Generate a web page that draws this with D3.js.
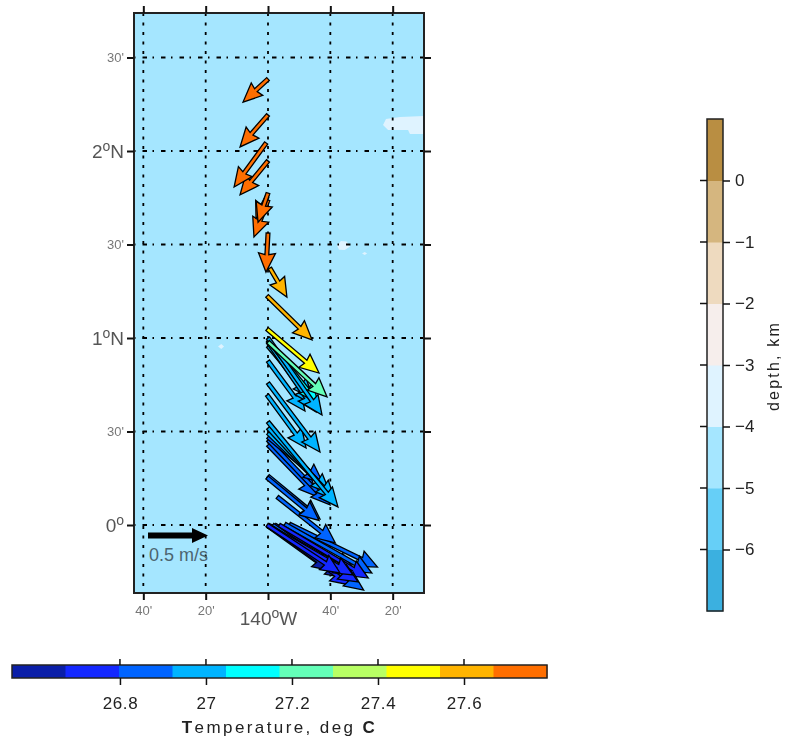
<!DOCTYPE html>
<html>
<head>
<meta charset="utf-8">
<script src="https://cdn.jsdelivr.net/npm/d3@7"></script>
<style>
html,body{margin:0;padding:0;background:#fff;}
svg{display:block;filter:blur(0.5px);font-family:"Liberation Sans",Arial,sans-serif;}
</style>
</head>
<body>
<svg id="chart"></svg>
<script>
var WIDTH = 785;
var HEIGHT = 742;

// current vectors (lon/lat of the tail, u/v in m/s, temperature)
var vecLon = [-140,-140,-140.01,-140,-140,-140.005,-140,-140,-139.99,-140.005,-140.005,
  -140,-140,-140,-140,-140,-139.995,-140,-140,-140.005,
  -140,-140,-140,-140,-140,-140,-140.005,-140,-139.95,
  -140.005,-140,-140,-139.975,-139.94,-139.91,-139.885,-139.99,-140,-139.99,-139.963];
var vecLat = [2.385,2.193,2.043,1.947,1.775,1.754,1.738,1.561,1.374,1.225,1.048,
  0.979,1.0,0.989,0.979,0.957,0.963,0.877,0.759,0.695,
  0.551,0.519,0.492,0.471,0.455,0.428,0.254,0.262,0.15,
  0,-0.005,0,0,0,0.005,0.005,-0.005,-0.005,-0.005,0];
var vecU = [-0.208,-0.233,-0.267,-0.233,-0.083,-0.092,-0.117,-0.017,0.142,0.375,0.433,
  0.492,0.45,0.417,0.4,0.367,0.367,0.308,0.433,0.325,
  0.583,0.558,0.517,0.458,0.517,0.417,0.433,0.433,0.483,
  0.608,0.708,0.75,0.758,0.742,0.725,0.733,0.517,0.683,0.625,0.667];
var vecV = [-0.192,-0.267,-0.367,-0.283,-0.242,-0.175,-0.308,-0.325,-0.242,-0.367,-0.367,
  -0.458,-0.642,-0.525,-0.583,-0.433,-0.5,-0.417,-0.575,-0.442,
  -0.708,-0.6,-0.5,-0.383,-0.542,-0.433,-0.358,-0.358,-0.383,
  -0.4,-0.408,-0.475,-0.542,-0.442,-0.408,-0.358,-0.375,-0.492,-0.433,-0.375];
var vecTemp = [27.75,27.75,27.75,27.75,27.75,27.75,27.75,27.75,27.65,27.65,27.5,
  27.25,27.0,27.1,27.0,27.0,27.0,27.0,26.98,26.98,
  26.98,26.98,26.98,26.85,26.85,26.85,26.85,26.85,26.85,
  26.7,26.72,26.72,26.85,26.7,26.85,26.85,26.6,26.72,26.6,26.72];

// shallow patches in the bathymetry
var patches = [
  [[-139.385,2.139],[-139.369,2.171],[-139.294,2.182],[-139.166,2.187],[-139.166,2.091],[-139.241,2.091],[-139.251,2.112],[-139.358,2.112]],
  [[-139.631,1.495],[-139.61,1.519],[-139.58,1.516],[-139.561,1.49],[-139.59,1.47],[-139.62,1.472]],
  [[-139.497,1.452],[-139.483,1.46],[-139.47,1.452],[-139.483,1.444]],
  [[-140.267,0.955],[-140.25,0.968],[-140.235,0.955],[-140.25,0.941]]
];

var lonTicks = [-140.6667,-140.3333,-140,-139.6667,-139.3333];
var lonLabels = ["40'","20'","140°W","40'","20'"];
var latTicks = [0,0.5,1,1.5,2,2.5];
var latLabels = ["0°","30'","1°N","30'","2°N","30'"];

var tempColors = ["#0a1ea8","#1428ff","#0064ff","#00b4ff","#00ffff","#64ffb8","#b8ff64","#ffff00","#ffb400","#ff6e00"];
var tempDomain = [26.549,27.793];
var tempTicks = [26.8,27,27.2,27.4,27.6];

var depthColors = ["#3bb0e0","#66cff7","#a5e6ff","#dff3ff","#f6eeec","#eedabf","#d5b67f","#b98e42"];
var depthTicks = [0,-1,-2,-3,-4,-5,-6];

var svg = d3.select('#chart').attr('width',WIDTH).attr('height',HEIGHT);

var xScale = d3.scaleLinear().domain([-140.7166,-139.1658]).range([134,424]);
var yScale = d3.scaleLinear().domain([-0.3636,2.738]).range([593,13]);

// map panel
var mapW = 290, mapH = 580;
svg.append('rect').attr('x',134).attr('y',13).attr('width',mapW).attr('height',mapH)
  .attr('fill',depthColors[2]);

var patchLine = d3.line()
  .x(function(d){return xScale(d[0]);})
  .y(function(d){return yScale(d[1]);})
  .curve(d3.curveLinearClosed);
svg.append('g').selectAll('path').data(patches).enter().append('path')
  .attr('d',patchLine)
  .attr('fill',depthColors[3]);

// degree sign is drawn as a raised small o
var writeLabel = function(sel){
  sel.each(function(d,i){
    var t = d3.select(this);
    var parts = t.text().split('°');
    t.text(parts[0]);
    if(parts.length > 1){
      t.append('tspan').attr('dy',-7).style('font-size','14px').text('o');
      t.append('tspan').attr('dy',7).text(parts[1]);
    }
  });
};

var bigLabel = function(s){ return s.indexOf('°') >= 0; };

var styleMapAxis = function(g){
  g.select('.domain').remove();
  g.selectAll('.tick line').attr('stroke','#111').attr('stroke-width',2);
  g.selectAll('.tick text')
    .attr('fill',function(){ return bigLabel(d3.select(this).text()) ? '#555' : '#777'; })
    .style('font-size',function(){ return bigLabel(d3.select(this).text()) ? '19px' : '13px'; })
    .style('font-family','"Liberation Sans",Arial,sans-serif');
};

// grid
var gridG = svg.append('g');
gridG.selectAll('line.v').data(lonTicks).enter().append('line').attr('class','v')
  .attr('x1',function(d){return xScale(d);}).attr('x2',function(d){return xScale(d);})
  .attr('y1',13).attr('y2',593)
  .attr('stroke','#000').attr('stroke-width',1.8).attr('stroke-dasharray','3 6.5');
gridG.selectAll('line.h').data(latTicks).enter().append('line').attr('class','h')
  .attr('y1',function(d){return yScale(d);}).attr('y2',function(d){return yScale(d);})
  .attr('x1',134).attr('x2',424)
  .attr('stroke','#000').attr('stroke-width',1.8).attr('stroke-dasharray','1.5 7 4.5 5.5');

// vectors
var quiver = d3.scaleLinear().domain([0,0.5]).range([0,60]);
var vecPath = function(i){
  var x0 = xScale(vecLon[i]), y0 = yScale(vecLat[i]);
  var dx = quiver(vecU[i]), dy = -quiver(vecV[i]);
  var len = Math.sqrt(dx*dx+dy*dy);
  var ux = dx/len, uy = dy/len, px = -uy, py = ux;
  var w = 1.9, hl = Math.min(19,len*0.65), hw = 8.5, notch = hl*0.92;
  var pts = [
    [x0+px*w,y0+py*w],
    [x0+ux*(len-notch)+px*w,y0+uy*(len-notch)+py*w],
    [x0+ux*(len-hl)+px*hw,y0+uy*(len-hl)+py*hw],
    [x0+dx,y0+dy],
    [x0+ux*(len-hl)-px*hw,y0+uy*(len-hl)-py*hw],
    [x0+ux*(len-notch)-px*w,y0+uy*(len-notch)-py*w],
    [x0-px*w,y0-py*w]
  ];
  return d3.line()(pts)+'Z';
};
var tempColor = d3.scaleQuantize().domain(tempDomain).range(tempColors);
// drawn south to north so the warm arrows end up on top
svg.append('g').selectAll('path').data(d3.range(vecLat.length).reverse()).enter().append('path')
  .attr('d',vecPath)
  .attr('fill',function(i){return tempColor(vecTemp[i]);})
  .attr('stroke','#000').attr('stroke-width',1.3).attr('stroke-linejoin','miter');

// reference arrow
var refLen = quiver(0.5);
var refX = 148, refY = 535.5;
svg.append('path')
  .attr('d',d3.line()([[refX,refY-3],[refX+refLen-16,refY-3],[refX+refLen-16,refY-7.5],[refX+refLen,refY],[refX+refLen-16,refY+7.5],[refX+refLen-16,refY+3],[refX,refY+3]])+'Z')
  .attr('fill','#000');
svg.append('text').attr('x',149).attr('y',561).attr('fill','#4c6470')
  .style('font-size','18px').text('0.5 m/s');

// frame + map axes
svg.append('rect').attr('x',134).attr('y',13).attr('width',mapW).attr('height',mapH)
  .attr('fill','none').attr('stroke','#222').attr('stroke-width',2);

var lonFmt = function(d,i){return lonLabels[i];};
var latFmt = function(d,i){return latLabels[i];};

var bottomAxis = d3.axisBottom(xScale).tickValues(lonTicks).tickFormat(lonFmt).tickSize(7).tickPadding(3);
var gb = svg.append('g').attr('transform','translate(0,593)').call(bottomAxis).call(styleMapAxis);
gb.selectAll('.tick text').attr('dy',function(){ return bigLabel(d3.select(this).text()) ? '1.16em' : '0.92em'; }).call(writeLabel);

var topAxis = d3.axisTop(xScale).tickValues(lonTicks).tickFormat('').tickSize(7);
svg.append('g').attr('transform','translate(0,13)').call(topAxis).call(styleMapAxis);

var leftAxis = d3.axisLeft(yScale).tickValues(latTicks).tickFormat(latFmt).tickSize(7).tickPadding(3);
var gl = svg.append('g').attr('transform','translate(134,0)').call(leftAxis).call(styleMapAxis);
gl.selectAll('.tick text').call(writeLabel);

var rightAxis = d3.axisRight(yScale).tickValues(latTicks).tickFormat('').tickSize(7);
svg.append('g').attr('transform','translate(424,0)').call(rightAxis).call(styleMapAxis);

// temperature colour bar
var tempX = d3.scaleLinear().domain(tempDomain).range([12,547]);
var tempStep = (tempDomain[1]-tempDomain[0])/tempColors.length;
var barTop = 665, barH = 13;
svg.append('g').selectAll('rect').data(tempColors).enter().append('rect')
  .attr('x',function(d,i){return tempX(tempDomain[0]+i*tempStep);})
  .attr('y',barTop)
  .attr('width',tempX(tempDomain[0]+tempStep)-tempX(tempDomain[0])+0.5)
  .attr('height',barH)
  .attr('fill',function(d){return d;});
svg.append('rect').attr('x',12).attr('y',barTop).attr('width',535).attr('height',barH)
  .attr('fill','none').attr('stroke','#222').attr('stroke-width',1.5);

var tempAxis = d3.axisBottom(tempX).tickValues(tempTicks).tickFormat(function(d){return d3.format('.4~r')(d);}).tickSize(7).tickPadding(12);
var gt = svg.append('g').attr('transform','translate(0,'+(barTop+barH)+')').call(tempAxis);
gt.select('.domain').remove();
gt.selectAll('.tick line').attr('stroke','#111').attr('stroke-width',1.5);
gt.selectAll('.tick text').attr('fill','#222').style('font-size','17px').style('letter-spacing','0.6px')
  .style('font-family','"Liberation Sans",Arial,sans-serif');
svg.append('g').selectAll('line').data(tempTicks).enter().append('line')
  .attr('x1',function(d){return tempX(d);}).attr('x2',function(d){return tempX(d);})
  .attr('y1',barTop-6).attr('y2',barTop)
  .attr('stroke','#111').attr('stroke-width',1.5);
var tempTitle = svg.append('text').attr('x',279.5).attr('y',733).attr('text-anchor','middle')
  .attr('fill','#222').style('font-size','17px').style('letter-spacing','2.4px');
tempTitle.append('tspan').style('font-weight','bold').text('T');
tempTitle.append('tspan').text('emperature, deg ');
tempTitle.append('tspan').style('font-weight','bold').text('C');

// depth colour bar
var depthY = d3.scaleLinear().domain([-7,1]).range([611,119]);
svg.append('g').selectAll('rect').data(depthColors).enter().append('rect')
  .attr('x',707).attr('width',16)
  .attr('y',function(d,i){return depthY(-7+i+1);})
  .attr('height',depthY(0)-depthY(1)+0.5)
  .attr('fill',function(d){return d;});
svg.append('rect').attr('x',707).attr('y',119).attr('width',16).attr('height',492)
  .attr('fill','none').attr('stroke','#222').attr('stroke-width',1.5);

var depthAxis = d3.axisRight(depthY).tickValues(depthTicks).tickFormat(function(d){return d < 0 ? '\u2212'+(-d) : d;}).tickSize(7).tickPadding(5);
var gd = svg.append('g').attr('transform','translate(723,0)').call(depthAxis);
gd.select('.domain').remove();
gd.selectAll('.tick line').attr('stroke','#111').attr('stroke-width',1.5);
gd.selectAll('.tick text').attr('fill','#222').style('font-size','17px')
  .style('font-family','"Liberation Sans",Arial,sans-serif');
svg.append('g').selectAll('line').data(depthTicks).enter().append('line')
  .attr('x1',700).attr('x2',707)
  .attr('y1',function(d){return depthY(d);}).attr('y2',function(d){return depthY(d);})
  .attr('stroke','#111').attr('stroke-width',1.5);
svg.append('text').attr('transform','translate(779,366) rotate(-90)').attr('text-anchor','middle')
  .attr('fill','#222').style('font-size','16px').style('letter-spacing','2.2px').text('depth, km');
</script>
</body>
</html>
